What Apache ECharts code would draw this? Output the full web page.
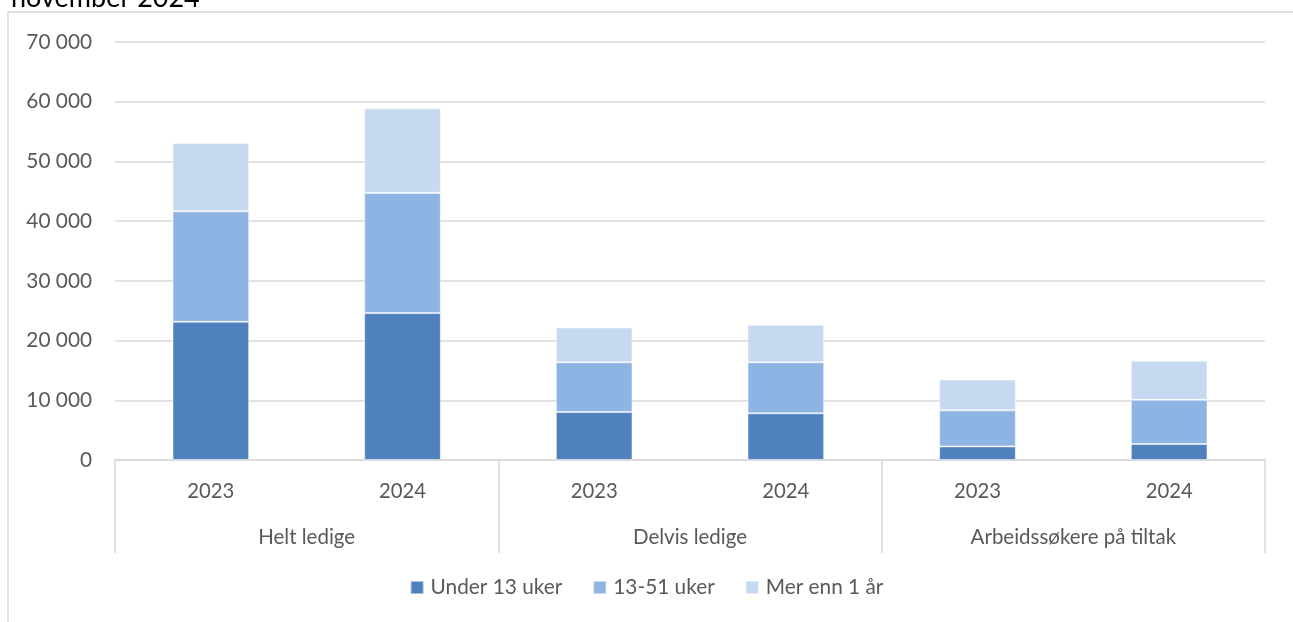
<!DOCTYPE html>
<html>
<head>
<meta charset="utf-8">
<script src="https://cdn.jsdelivr.net/npm/echarts@6/dist/echarts.min.js"></script>
<style>
  html, body { margin: 0; padding: 0; background: #fff; }
  #chart { width: 1293px; height: 622px; }
</style>
</head>
<body>
<div id="chart"></div>
<script>
// data
var years = ['2023', '2024', '2023', '2024', '2023', '2024'];
var groups = ['Helt ledige', 'Delvis ledige', 'Arbeidssøkere på tiltak'];
var under13 = [23150, 24600, 8050, 7820, 2280, 2680];
var uker13_51 = [18510, 20130, 8330, 8560, 6040, 7390];
var merEnn1 = [11440, 14160, 5820, 6270, 5150, 6540];
var seriesNames = ['Under 13 uker', '13-51 uker', 'Mer enn 1 år'];
var colors = ['#4F81BD', '#8EB4E3', '#C6D9F1'];

var myChart = echarts.init(document.getElementById('chart'));
var font = 'Lato, "Open Sans", sans-serif';
var txt = '#595959';

function fmt(v) {
    return String(v).replace(/\B(?=(\d{3})+(?!\d))/g, ' ');
}

function bar(name, data) {
    return {
        name: name,
        type: 'bar',
        stack: 'total',
        barWidth: '40%',
        xAxisIndex: 0,
        data: data,
        itemStyle: { borderColor: 'rgba(255,255,255,0.5)', borderWidth: 1 }
    };
}

var option = {
    color: colors,
    textStyle: { fontFamily: font },
    title: {
        text: 'november 2024',
        left: 6,
        top: -20,
        textStyle: { fontFamily: font, fontSize: 27, fontWeight: 'normal', color: '#000' }
    },
    graphic: [{
        type: 'rect',
        shape: { x: 8, y: 12, width: 1400, height: 700 },
        style: { fill: 'none', stroke: '#D9D9D9', lineWidth: 1.5 },
        silent: true
    }],
    legend: {
        bottom: 19,
        left: 'center',
        itemWidth: 13,
        itemHeight: 13,
        itemGap: 30,
        icon: 'rect',
        textStyle: { fontFamily: font, fontSize: 20.8, color: txt, padding: [0, 0, 0, 2] },
        data: seriesNames
    },
    grid: { left: 115, right: 28, top: 42, bottom: 162 },
    xAxis: [{
        type: 'category',
        data: years,
        position: 'bottom',
        axisLine: { show: true, lineStyle: { color: '#D9D9D9', width: 1.5 } },
        axisTick: { show: false },
        axisLabel: { color: txt, fontSize: 20.3, fontFamily: font, margin: 21 }
    }, {
        type: 'category',
        data: groups,
        position: 'bottom',
        axisLine: { show: false },
        axisTick: { show: true, length: 93, lineStyle: { color: '#D9D9D9', width: 1.5 } },
        axisLabel: { color: txt, fontSize: 20.5, fontFamily: font, margin: 67 }
    }],
    yAxis: {
        type: 'value',
        min: 0,
        max: 70000,
        interval: 10000,
        axisLine: { show: false },
        axisTick: { show: false },
        splitLine: { lineStyle: { color: '#D9D9D9', width: 1.5 } },
        axisLabel: { color: txt, fontSize: 20.8, fontFamily: font, margin: 23, formatter: fmt }
    },
    series: [
        bar(seriesNames[0], under13),
        bar(seriesNames[1], uker13_51),
        bar(seriesNames[2], merEnn1)
    ]
};
myChart.setOption(option);
</script>
</body>
</html>
